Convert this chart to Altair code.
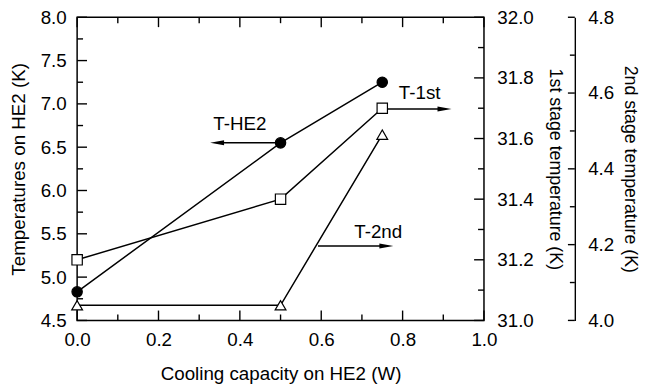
import altair as alt
import pandas as pd

# ---- data ----
x_vals = [0.0, 0.5, 0.75]
t_he2 = [4.83, 6.55, 7.25]      # left axis (K)
t_1st = [31.20, 31.40, 31.70]   # 1st stage axis (K)
t_2nd = [4.04, 4.04, 4.49]      # 2nd stage axis (K)

# annotations, in data units (x in W, y on the left axis in K)
ann_labels = ["T-HE2", "T-1st", "T-2nd"]
ann_text_x = [0.40, 0.842, 0.74]
ann_text_y = [6.77, 7.12, 5.52]
ann_arrow_x0 = [0.5, 0.75, 0.592]
ann_arrow_x1 = [0.344, 0.903, 0.760]
ann_arrow_y = [6.55, 6.94, 5.36]
ann_dir = ["left", "right", "right"]

# tick values of the axes
x_major = [0.0, 0.2, 0.4, 0.6, 0.8, 1.0]
x_minor = [0.1, 0.3, 0.5, 0.7, 0.9]
l_major = [4.5, 5.0, 5.5, 6.0, 6.5, 7.0, 7.5, 8.0]
l_minor = [4.75, 5.25, 5.75, 6.25, 6.75, 7.25, 7.75]
f_major = [31.0, 31.2, 31.4, 31.6, 31.8, 32.0]
f_minor = [31.1, 31.3, 31.5, 31.7, 31.9]
s_major = [4.0, 4.2, 4.4, 4.6, 4.8]
s_minor = [4.1, 4.3, 4.5, 4.7]

W, H = 412, 307
OFF2 = 92          # offset of the detached 2nd stage axis (px)
FONT = "Liberation Sans"
FS = 19
TW = 1.4
X0, X1 = 0.0, 1.0
L0, L1 = 4.5, 8.0

df = pd.DataFrame({"x": x_vals, "he2": t_he2, "first": t_1st, "second": t_2nd})
ann = pd.DataFrame({"label": ann_labels, "tx": ann_text_x, "ty": ann_text_y,
                    "x0": ann_arrow_x0, "x1": ann_arrow_x1, "ay": ann_arrow_y,
                    "dir": ann_dir})

xdom = alt.Scale(domain=[X0, X1], nice=False, zero=False)
ldom = alt.Scale(domain=[L0, L1], nice=False, zero=False)
fdom = alt.Scale(domain=[31.0, 32.0], nice=False, zero=False)
sdom = alt.Scale(domain=[4.0, 4.8], nice=False, zero=False)

# tick lengths converted from pixels to data units of the scales
def xlen(px):
    return px * (X1 - X0) / W


def ylen(px):
    return px * (L1 - L0) / H


def label_axis(orient, values, title, pad, tpad, offset=0, domain=False, tfs=FS):
    return alt.Axis(orient=orient, offset=offset, values=values, format=".1f",
                    ticks=False, domain=domain, domainColor="black", domainWidth=TW,
                    labelPadding=pad, labelFont=FONT, labelFontSize=FS,
                    labelColor="black", title=title, titleFont=FONT,
                    titleFontSize=tfs, titleFontWeight="normal", titleColor="black",
                    titlePadding=tpad, labelFlush=False, grid=False)


def xticks(values, a, b):
    d = pd.DataFrame({"v": values, "a": [a] * len(values), "b": [b] * len(values)})
    return alt.Chart(d).mark_rule(color="black", strokeWidth=TW).encode(
        x=alt.X("v:Q", scale=xdom, axis=None), x2="v:Q",
        y=alt.Y("a:Q", scale=ldom, axis=None), y2="b:Q")


def yticks(values, scale, a, b):
    d = pd.DataFrame({"v": values, "a": [a] * len(values), "b": [b] * len(values)})
    return alt.Chart(d).mark_rule(color="black", strokeWidth=TW).encode(
        y=alt.Y("v:Q", scale=scale, axis=None), y2="v:Q",
        x=alt.X("a:Q", scale=xdom, axis=None), x2="b:Q")


def pt(shape, filled_black):
    return alt.OverlayMarkDef(shape=shape, filled=True,
                              fill="black" if filled_black else "white",
                              stroke="black", strokeWidth=1.2,
                              size=110 if shape != "triangle-up" else 120, opacity=1)


x_axis2 = X1 + xlen(OFF2)
tick_layers = [
    xticks(x_major, L0, L0 + ylen(10)), xticks(x_minor, L0, L0 + ylen(6)),
    xticks(x_major, L1, L1 - ylen(10)), xticks(x_minor, L1, L1 - ylen(6)),
    yticks(l_major, ldom, X0, X0 + xlen(10)), yticks(l_minor, ldom, X0, X0 + xlen(6)),
    yticks(f_major, fdom, X1, X1 - xlen(10)), yticks(f_minor, fdom, X1, X1 - xlen(6)),
    yticks(s_major, sdom, x_axis2, x_axis2 - xlen(7)),
    yticks(s_minor, sdom, x_axis2, x_axis2 - xlen(5)),
]

# T-1st with right labels
l4 = alt.Chart(df).mark_line(color="black", strokeWidth=1.5,
                             point=pt("square", False)).encode(
    x=alt.X("x:Q", scale=xdom, axis=None),
    y=alt.Y("first:Q", scale=fdom,
            axis=label_axis("right", f_major, "1st stage temperature (K)", 13, 12, tfs=18)),
)

# T-2nd with the detached right axis
l5 = alt.Chart(df).mark_line(color="black", strokeWidth=1.5,
                             point=pt("triangle-up", False)).encode(
    x=alt.X("x:Q", scale=xdom, axis=None),
    y=alt.Y("second:Q", scale=sdom,
            axis=label_axis("right", s_major, "2nd stage temperature (K)", 13, 7,
                            offset=OFF2, domain=True, tfs=18)),
)

# T-HE2 with left labels and bottom labels
l1 = alt.Chart(df).mark_line(color="black", strokeWidth=1.5,
                             point=pt("circle", True)).encode(
    x=alt.X("x:Q", scale=xdom,
            axis=label_axis("bottom", x_major, "Cooling capacity on HE2 (W)", 10, 16)),
    y=alt.Y("he2:Q", scale=ldom,
            axis=label_axis("left", l_major, "Temperatures on HE2 (K)", 11, 12)),
)

# annotations
a_rule = alt.Chart(ann).mark_rule(color="black", strokeWidth=1.5).encode(
    x=alt.X("x0:Q", scale=xdom, axis=None), x2="x1:Q",
    y=alt.Y("ay:Q", scale=ldom, axis=None),
)
left_head = "M-1,0 L1,-0.36 L1,0.36 Z"
right_head = "M1,0 L-1,-0.36 L-1,0.36 Z"
a_head = alt.Chart(ann).mark_point(filled=True, color="black", size=200, opacity=1).encode(
    x=alt.X("x1:Q", scale=xdom, axis=None),
    y=alt.Y("ay:Q", scale=ldom, axis=None),
    shape=alt.Shape("dir:N", scale=alt.Scale(domain=["left", "right"],
                                             range=[left_head, right_head]),
                    legend=None),
)
a_text = alt.Chart(ann).mark_text(font=FONT, fontSize=FS, color="black",
                                  align="center", baseline="middle").encode(
    x=alt.X("tx:Q", scale=xdom, axis=None),
    y=alt.Y("ty:Q", scale=ldom, axis=None),
    text="label:N",
)

chart = alt.layer(*tick_layers, a_rule, a_head, a_text, l4, l5, l1).resolve_scale(
    x="independent", y="independent"
).properties(
    width=W, height=H,
    autosize=alt.AutoSizeParams(type="none"),
    padding={"left": 70, "top": 7, "right": 158, "bottom": 62},
    background="white",
).configure_view(stroke="black", strokeWidth=1.5)

chart.save("out.html", embed_options={"renderer": "svg", "actions": False})
